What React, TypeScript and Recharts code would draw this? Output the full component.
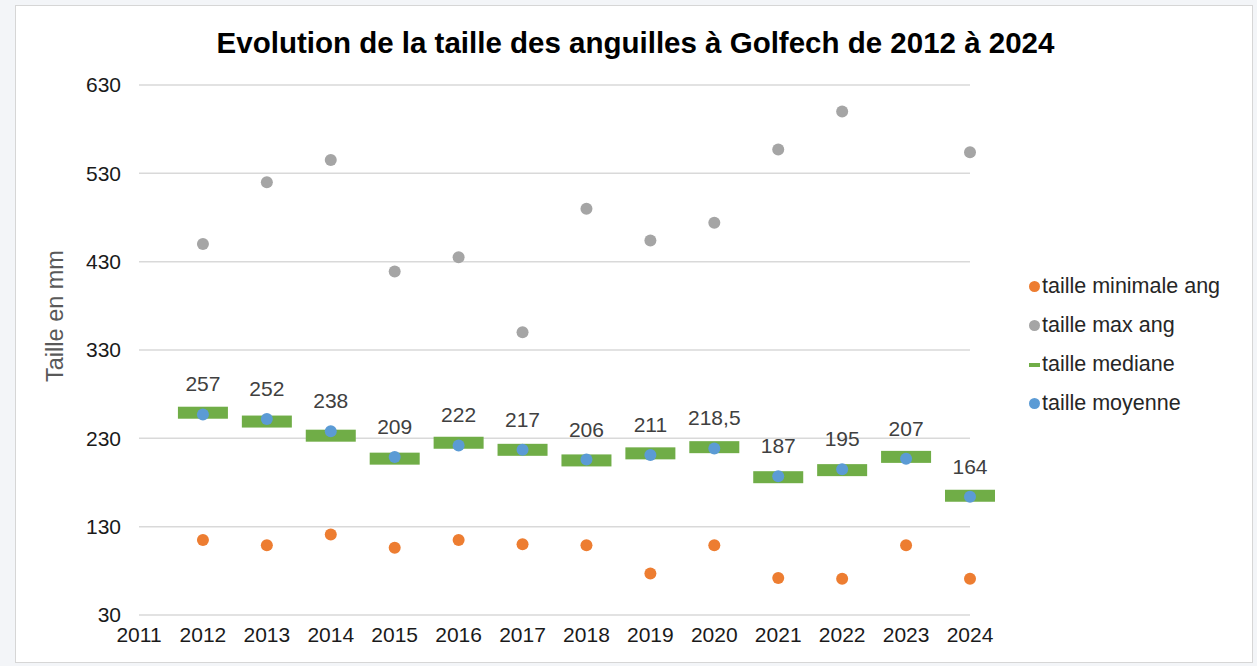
import React from 'react';
import { ScatterChart, Scatter, XAxis, YAxis, CartesianGrid, Legend, LabelList, Label } from 'recharts';

const ANNEES = [2012, 2013, 2014, 2015, 2016, 2017, 2018, 2019, 2020, 2021, 2022, 2023, 2024];
const TAILLE_MIN = [115, 109, 121, 106, 115, 110, 109, 77, 109, 72, 71, 109, 71];
const TAILLE_MAX = [450, 520, 545, 419, 435, 350, 490, 454, 474, 557, 600, null, 554];
const TAILLE_MEDIANE = [259, 249, 233, 207, 225, 217, 205, 213, 220, 186, 194, 209, 165];
const TAILLE_MOYENNE = [257, 252, 238, 209, 222, 217, 206, 211, 218.5, 187, 195, 207, 164];
const X_TICKS = [2011, 2012, 2013, 2014, 2015, 2016, 2017, 2018, 2019, 2020, 2021, 2022, 2023, 2024];
const Y_TICKS = [30, 130, 230, 330, 430, 530, 630];

const COULEURS = {
  min: '#ed7d31',
  max: '#a5a5a5',
  mediane: '#70ad47',
  moyenne: '#5b9bd5',
};

const FONT = '"Liberation Sans", Arial, sans-serif';

const toPoints = (values: (number | null)[]) =>
  ANNEES.map((annee, i) => ({ annee, valeur: values[i] })).filter(p => p.valeur !== null);

const minData = toPoints(TAILLE_MIN);
const maxData = toPoints(TAILLE_MAX);
const medianeData = toPoints(TAILLE_MEDIANE);
const moyenneData = toPoints(TAILLE_MOYENNE);

const SERIES = [
  { name: 'taille minimale ang', color: COULEURS.min, type: 'dot' },
  { name: 'taille max ang', color: COULEURS.max, type: 'dot' },
  { name: 'taille mediane', color: COULEURS.mediane, type: 'dash' },
  { name: 'taille moyenne', color: COULEURS.moyenne, type: 'dot' },
];

const dot = (color: string) => (props: any) => (
  <circle cx={props.cx} cy={props.cy} r={6} fill={color} />
);

const medianBar = (props: any) => (
  <rect x={props.cx - 25} y={props.cy - 6} width={50} height={12} fill={COULEURS.mediane} />
);

const MoyenneLabel = (props: any) => {
  const { x, y, width, height, value } = props;
  const cx = x + width / 2;
  const cy = y + height / 2;
  return (
    <text x={cx} y={cy - 23} textAnchor="middle" fill="#404040" fontSize={21} fontFamily={FONT}>
      {String(value).replace('.', ',')}
    </text>
  );
};

const LegendContent = () => (
  <div style={{ fontFamily: FONT, fontSize: 21.5, color: '#262626' }}>
    {SERIES.map(s => (
      <div key={s.name} style={{ display: 'flex', alignItems: 'center', height: 39 }}>
        {s.type === 'dot' ? (
          <span style={{ width: 11, height: 11, borderRadius: '50%', background: s.color, marginRight: 2 }} />
        ) : (
          <span style={{ width: 11, height: 4, background: s.color, marginRight: 2 }} />
        )}
        <span>{s.name}</span>
      </div>
    ))}
  </div>
);

const YLabel = () => (
  <text
    x={55}
    y={316}
    transform="rotate(-90 55 316)"
    textAnchor="middle"
    dominantBaseline="central"
    fill="#595959"
    fontSize={23.5}
    fontFamily={FONT}
  >
    Taille en mm
  </text>
);

export default function App() {
  return (
    <div style={{ position: 'absolute', left: 0, top: 0, width: 1257, height: 666, background: '#f3f5f8', overflow: 'hidden' }}>
      <div
        style={{
          position: 'absolute',
          left: 15,
          top: 5,
          width: 1236,
          height: 656,
          background: '#ffffff',
          border: '1px solid #d6d6d6',
        }}
      />
      <div
        style={{
          position: 'absolute',
          left: 0,
          top: 26,
          width: 1271,
          textAlign: 'center',
          fontFamily: FONT,
          fontWeight: 'bold',
          fontSize: 29.5,
          color: '#000',
        }}
      >
        Evolution de la taille des anguilles à Golfech de 2012 à 2024
      </div>
      <div style={{ position: 'absolute', left: 0, top: 0 }}>
        <ScatterChart width={1257} height={666} margin={{ top: 85, right: 287, bottom: 21, left: 59 }}>
          <CartesianGrid horizontal vertical={false} stroke="#d9d9d9" strokeWidth={1.5} />
          <XAxis
            type="number"
            dataKey="annee"
            domain={[2011, 2024]}
            ticks={X_TICKS}
            interval={0}
            axisLine={false}
            tickLine={false}
            tickSize={0}
            tickMargin={12}
            height={30}
            tick={{ fill: '#1a1a1a', fontSize: 21, fontFamily: FONT }}
          />
          <YAxis
            type="number"
            dataKey="valeur"
            domain={[30, 630]}
            ticks={Y_TICKS}
            interval={0}
            axisLine={false}
            tickLine={false}
            tickSize={0}
            tickMargin={18}
            width={80}
            tick={{ fill: '#1a1a1a', fontSize: 21, fontFamily: FONT }}
          >
            <Label content={<YLabel />} />
          </YAxis>
          <Legend
            content={<LegendContent />}
            layout="vertical"
            align="center"
            verticalAlign="middle"
            wrapperStyle={{ position: 'absolute', left: 1029, top: 267, width: 225 }}
          />
          <Scatter name="taille minimale ang" data={minData} shape={dot(COULEURS.min)} isAnimationActive={false} />
          <Scatter name="taille max ang" data={maxData} shape={dot(COULEURS.max)} isAnimationActive={false} />
          <Scatter name="taille mediane" data={medianeData} shape={medianBar} isAnimationActive={false} />
          <Scatter name="taille moyenne" data={moyenneData} shape={dot(COULEURS.moyenne)} isAnimationActive={false}>
            <LabelList dataKey="valeur" content={<MoyenneLabel />} />
          </Scatter>
        </ScatterChart>
      </div>
    </div>
  );
}
